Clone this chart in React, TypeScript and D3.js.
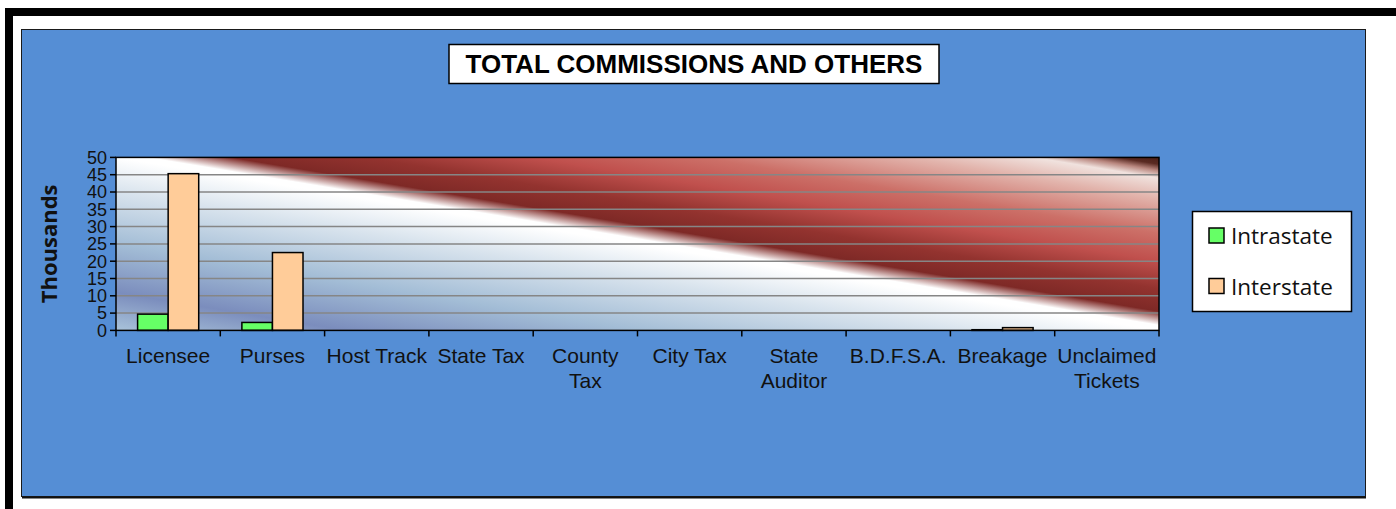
import { useEffect, useRef } from "react"
import * as d3 from "d3"

const categories = [
  "Licensee",
  "Purses",
  "Host Track",
  "State Tax",
  "County Tax",
  "City Tax",
  "State Auditor",
  "B.D.F.S.A.",
  "Breakage",
  "Unclaimed Tickets",
]
// how each category label is broken into lines under the axis
const categoryLines = [
  ["Licensee"],
  ["Purses"],
  ["Host Track"],
  ["State Tax"],
  ["County", "Tax"],
  ["City Tax"],
  ["State", "Auditor"],
  ["B.D.F.S.A."],
  ["Breakage"],
  ["Unclaimed", "Tickets"],
]
const seriesNames = ["Intrastate", "Interstate"]
const seriesColors = ["#66ff66", "#ffcc99"]
// values in thousands
const intrastate = [4.7, 2.3, 0, 0, 0, 0, 0, 0, 0.2, 0]
const interstate = [45.3, 22.5, 0, 0, 0, 0, 0, 0, 0.8, 0]
const yTicks = [0, 5, 10, 15, 20, 25, 30, 35, 40, 45, 50]

const title = "TOTAL COMMISSIONS AND OTHERS"

export default function App() {
  const svgRef = useRef<SVGSVGElement>(null)

  useEffect(() => {
    if (!svgRef.current) return
    const svg = d3.select(svgRef.current)
    svg.selectAll("*").remove()

    const W = 1396
    const H = 509
    const plot = { left: 116, right: 1159, top: 157.4, bottom: 330.4 }

    // outer frame
    svg.append("rect").attr("x", 0).attr("y", 0).attr("width", W).attr("height", H).attr("fill", "#fff")
    svg.append("rect").attr("x", 5).attr("y", 8).attr("width", W - 5).attr("height", 8).attr("fill", "#000")
    svg.append("rect").attr("x", 5).attr("y", 8).attr("width", 8).attr("height", H - 8).attr("fill", "#000")

    // chart area
    svg
      .append("rect")
      .attr("x", 21.5)
      .attr("y", 29.5)
      .attr("width", 1344)
      .attr("height", 467)
      .attr("fill", "#558ed5")
      .attr("stroke", "#1a1a1a")
      .attr("stroke-width", 1)
    svg.append("line").attr("x1", 22).attr("x2", 1366).attr("y1", 497.5).attr("y2", 497.5).attr("stroke", "#111").attr("stroke-width", 2)

    // title
    svg
      .append("rect")
      .attr("x", 449)
      .attr("y", 44.5)
      .attr("width", 490)
      .attr("height", 39)
      .attr("fill", "#fff")
      .attr("stroke", "#000")
      .attr("stroke-width", 1.5)
    svg
      .append("text")
      .attr("x", 694)
      .attr("y", 73)
      .attr("text-anchor", "middle")
      .attr("font-family", "Arial, 'Liberation Sans', sans-serif")
      .attr("font-weight", "bold")
      .attr("font-size", 26)
      .attr("fill", "#000")
      .text(title)

    // plot background gradient
    const defs = svg.append("defs")
    const grad = defs
      .append("linearGradient")
      .attr("id", "plotGrad")
      .attr("x1", 0)
      .attr("y1", 1)
      .attr("x2", 1)
      .attr("y2", 0)
    const stops: [number, string][] = [
      [0, "#a9c3da"],
      [0.11, "#7b8dbd"],
      [0.25, "#a3bdd6"],
      [0.4, "#d8e3ed"],
      [0.5, "#ffffff"],
      [0.515, "#ffffff"],
      [0.555, "#7e2926"],
      [0.62, "#93332f"],
      [0.7, "#c0504d"],
      [0.78, "#cc7068"],
      [0.88, "#e2b4ac"],
      [0.94, "#f0e2de"],
      [0.962, "#b8867e"],
      [0.98, "#5a2a22"],
      [1, "#4a2018"],
    ]
    stops.forEach(([o, c]) => grad.append("stop").attr("offset", o).attr("stop-color", c))

    const x0 = d3.scaleBand<string>().domain(categories).range([plot.left, plot.right]).padding(0)
    const bw = x0.bandwidth()
    const x1 = d3
      .scaleBand<string>()
      .domain(seriesNames)
      .range([bw * 0.207, bw * 0.793])
      .padding(0)
    const y = d3.scaleLinear().domain([0, 50]).range([plot.bottom, plot.top])

    svg
      .append("rect")
      .attr("x", plot.left)
      .attr("y", plot.top)
      .attr("width", plot.right - plot.left)
      .attr("height", plot.bottom - plot.top)
      .attr("fill", "url(#plotGrad)")

    // gridlines
    svg
      .append("g")
      .selectAll("line")
      .data(yTicks.filter((t) => t > 0 && t < 50))
      .join("line")
      .attr("x1", plot.left)
      .attr("x2", plot.right)
      .attr("y1", (d) => y(d))
      .attr("y2", (d) => y(d))
      .attr("stroke", "#868686")
      .attr("stroke-width", 1.5)

    // bars
    const series = [intrastate, interstate]
    const g = svg.append("g")
    series.forEach((vals, si) => {
      g.append("g")
        .selectAll("rect")
        .data(categories.map((c, i) => ({ c, v: vals[i] })).filter((d) => d.v > 0))
        .join("rect")
        .attr("x", (d) => (x0(d.c) as number) + (x1(seriesNames[si]) as number))
        .attr("y", (d) => y(d.v))
        .attr("width", x1.bandwidth())
        .attr("height", (d) => y(0) - y(d.v))
        .attr("fill", seriesColors[si])
        .attr("stroke", "#000")
        .attr("stroke-width", 1.5)
    })

    // plot border
    svg
      .append("rect")
      .attr("x", plot.left)
      .attr("y", plot.top)
      .attr("width", plot.right - plot.left)
      .attr("height", plot.bottom - plot.top)
      .attr("fill", "none")
      .attr("stroke", "#000")
      .attr("stroke-width", 1.5)

    // y axis ticks + labels
    const yAxis = svg.append("g")
    yAxis
      .selectAll("line")
      .data(yTicks)
      .join("line")
      .attr("x1", plot.left - 6)
      .attr("x2", plot.left)
      .attr("y1", (d) => y(d))
      .attr("y2", (d) => y(d))
      .attr("stroke", "#000")
      .attr("stroke-width", 1.5)
    yAxis
      .selectAll("text")
      .data(yTicks)
      .join("text")
      .attr("x", plot.left - 9)
      .attr("y", (d) => y(d))
      .attr("dy", "0.35em")
      .attr("text-anchor", "end")
      .attr("font-family", "Arial, 'Liberation Sans', sans-serif")
      .attr("font-size", 18)
      .attr("fill", "#111")
      .text((d) => d)

    svg
      .append("text")
      .attr("transform", `translate(57, ${(plot.top + plot.bottom) / 2}) rotate(-90)`)
      .attr("text-anchor", "middle")
      .attr("font-family", "'Open Sans', sans-serif")
      .attr("font-weight", "bold")
      .attr("font-size", 22)
      .attr("fill", "#111")
      .text("Thousands")

    // x axis ticks
    const xTickPos = categories.map((c) => x0(c) as number).concat([plot.right])
    svg
      .append("g")
      .selectAll("line")
      .data(xTickPos)
      .join("line")
      .attr("x1", (d) => d)
      .attr("x2", (d) => d)
      .attr("y1", plot.bottom)
      .attr("y2", plot.bottom + 6)
      .attr("stroke", "#000")
      .attr("stroke-width", 1.5)

    // x labels
    svg
      .append("g")
      .selectAll("text")
      .data(categories)
      .join("text")
      .attr("text-anchor", "middle")
      .attr("font-family", "Arial, 'Liberation Sans', sans-serif")
      .attr("font-size", 21)
      .attr("fill", "#111")
      .each(function (c, i) {
        const cx = (x0(c) as number) + bw / 2
        d3.select(this)
          .selectAll("tspan")
          .data(categoryLines[i])
          .join("tspan")
          .attr("x", cx)
          .attr("y", (_, j) => 363 + j * 24.5)
          .text((w) => w)
      })

    // legend
    const lg = svg.append("g")
    lg.append("rect")
      .attr("x", 1192.5)
      .attr("y", 211.5)
      .attr("width", 159)
      .attr("height", 100)
      .attr("fill", "#fff")
      .attr("stroke", "#000")
      .attr("stroke-width", 1.5)
    seriesNames.forEach((s, i) => {
      const yy = 228 + i * 50.5
      lg.append("rect")
        .attr("x", 1209)
        .attr("y", yy)
        .attr("width", 15)
        .attr("height", 15)
        .attr("fill", seriesColors[i])
        .attr("stroke", "#000")
        .attr("stroke-width", 1.5)
      lg.append("text")
        .attr("x", 1231)
        .attr("y", yy + 16)
        .attr("font-family", "'Open Sans', sans-serif")
        .attr("font-size", 22.5)
        .attr("fill", "#111")
        .text(s)
    })
  }, [])

  return (
    <svg
      ref={svgRef}
      width={1396}
      height={509}
      style={{ position: "absolute", left: 0, top: 0, display: "block" }}
    />
  )
}
